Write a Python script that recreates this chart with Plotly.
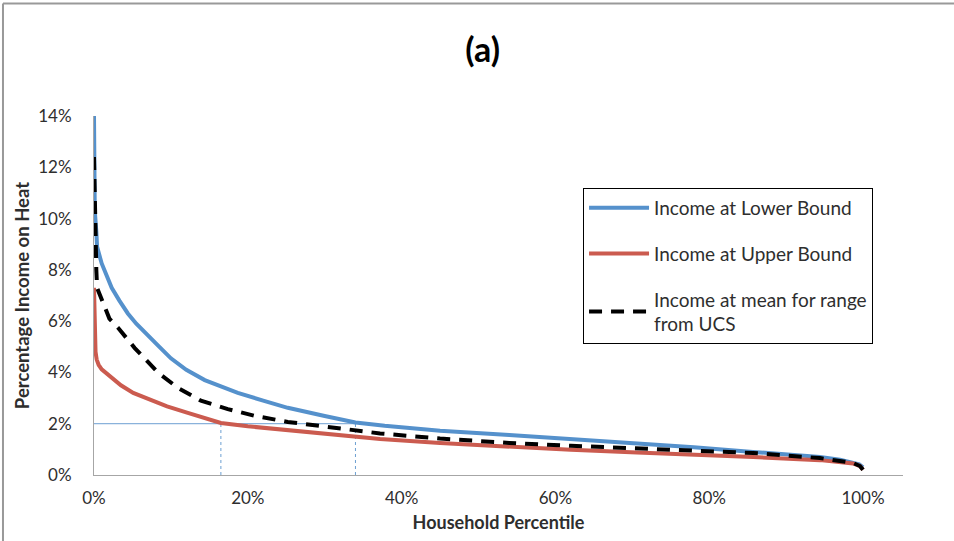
import plotly.graph_objects as go

# Household percentile (%) and share of income spent on heat (%) for each income assumption
lower_x = [0, 0.1, 0.3, 0.4, 1.0, 2.3, 3.3, 4.4, 5.5, 7.4, 8.5, 10, 12, 14.4, 16.5, 18.7, 22, 25.2,
           30, 34, 37.8, 45, 54, 62, 70.6, 78, 85.7, 90, 94.4, 97, 98.7, 99.5, 100]
lower_y = [14.0, 10.3, 9.5, 8.9, 8.25, 7.3, 6.8, 6.3, 5.9, 5.3, 5.0, 4.55, 4.1, 3.7, 3.45, 3.2, 2.9, 2.62,
           2.3, 2.05, 1.92, 1.73, 1.56, 1.4, 1.25, 1.08, 0.9, 0.8, 0.7, 0.6, 0.5, 0.42, 0.3]

upper_x = [0, 0.05, 0.1, 0.2, 0.35, 0.6, 1.0, 2.1, 3.5, 5.1, 7.9, 9.5, 12.2, 14, 16.5, 20, 25.2, 30, 34,
           37.2, 45, 54, 62, 70.6, 78, 85.7, 94.4, 98.7, 99.6, 100]
upper_y = [7.3, 6.2, 5.3, 4.8, 4.5, 4.3, 4.12, 3.85, 3.5, 3.2, 2.85, 2.68, 2.42, 2.25, 2.03, 1.9, 1.76, 1.62, 1.5,
           1.4, 1.25, 1.1, 0.98, 0.88, 0.8, 0.7, 0.58, 0.45, 0.35, 0.2]

mean_x = [0, 0.1, 0.2, 0.3, 0.4, 0.9, 2.0, 3.1, 5.3, 8.3, 10.9, 13.9, 17.4, 21, 25.2, 29.5, 34, 37.2,
          45, 54, 62, 70.6, 78, 85.7, 94.4, 98.7, 99.6, 100]
mean_y = [12.4, 10.5, 9.0, 8.0, 7.3, 6.9, 6.1, 5.75, 4.95, 4.0, 3.4, 2.9, 2.57, 2.3, 2.07, 1.91, 1.76, 1.62,
          1.42, 1.25, 1.14, 1.05, 0.95, 0.86, 0.66, 0.47, 0.35, 0.2]

series_names = ["Income at Lower Bound", "Income at Upper Bound",
                "Income at mean for range<br>from UCS"]

# 2% threshold and the percentiles where the two bounds cross it
threshold = 2.0
crossings = [16.5, 34.0]

x_tickvals = [0, 20, 40, 60, 80, 100]
x_ticktext = ["0%", "20%", "40%", "60%", "80%", "100%"]
y_tickvals = [0, 2, 4, 6, 8, 10, 12, 14]
y_ticktext = ["0%", "2%", "4%", "6%", "8%", "10%", "12%", "14%"]

BLUE = "#5591CC"
RED = "#CB5B4F"
TEXT = "#2E2E2E"
FONT = "Lato"

fig = go.Figure()

# reference lines
fig.add_trace(go.Scatter(x=[0, crossings[1]], y=[threshold, threshold], mode="lines",
                         line=dict(color="#6C9FD2", width=1), showlegend=False, hoverinfo="skip"))
for cx in crossings:
    fig.add_trace(go.Scatter(x=[cx, cx], y=[0, threshold], mode="lines",
                             line=dict(color="#6C9FD2", width=1, dash="3px,3px"),
                             showlegend=False, hoverinfo="skip"))

fig.add_trace(go.Scatter(x=lower_x, y=lower_y, mode="lines", name=series_names[0], legendgroup="a",
                         line=dict(color=BLUE, width=4)))
fig.add_trace(go.Scatter(x=upper_x, y=upper_y, mode="lines", name=series_names[1], legendgroup="b",
                         line=dict(color=RED, width=4)))
fig.add_trace(go.Scatter(x=mean_x, y=mean_y, mode="lines", name=series_names[2], legendgroup="c",
                         line=dict(color="black", width=4, dash="13px,9px")))

fig.update_layout(
    width=954, height=541,
    margin=dict(l=94, r=51, t=116, b=66),
    paper_bgcolor="white", plot_bgcolor="white",
    font=dict(family=FONT, size=17, color=TEXT),
    title=dict(text="<b>(a)</b>", x=0.506, xref="container", y=0.908,
               xanchor="center", yanchor="middle", font=dict(size=34, color="black", family=FONT)),
    legend=dict(x=0.6045, y=0.7995, xanchor="left", yanchor="top",
                bgcolor="white", bordercolor="black", borderwidth=1,
                traceorder="grouped", tracegroupgap=18, itemwidth=60,
                font=dict(size=19, color=TEXT, family=FONT)),
    showlegend=True,
)

fig.update_xaxes(range=[0, 105.2], tickvals=x_tickvals, ticktext=x_ticktext,
                 showgrid=False, zeroline=False, showline=True, linecolor="#A6A6A6", linewidth=1,
                 ticks="", ticklabelstandoff=8, tickfont=dict(size=17),
                 title=dict(text="<b>Household Percentile</b>", font=dict(size=18, color=TEXT),
                            standoff=8))
fig.update_yaxes(range=[0, 14], tickvals=y_tickvals, ticktext=y_ticktext,
                 showgrid=False, zeroline=False, showline=True, linecolor="#A6A6A6", linewidth=1,
                 ticks="", ticklabelstandoff=18, tickfont=dict(size=17),
                 title=dict(text="<b>Percentage Income on Heat</b>", font=dict(size=18.5, color=TEXT),
                            standoff=3))

# outer chart frame
fig.add_shape(type="line", xref="paper", yref="paper", x0=-0.1125, x1=1.2, y0=1.3134, y1=1.3134,
              line=dict(color="#999999", width=2))
fig.add_shape(type="line", xref="paper", yref="paper", x0=-0.1125, x1=-0.1125, y0=-0.2, y1=1.3134,
              line=dict(color="#999999", width=2))

fig.write_html("out.html")
